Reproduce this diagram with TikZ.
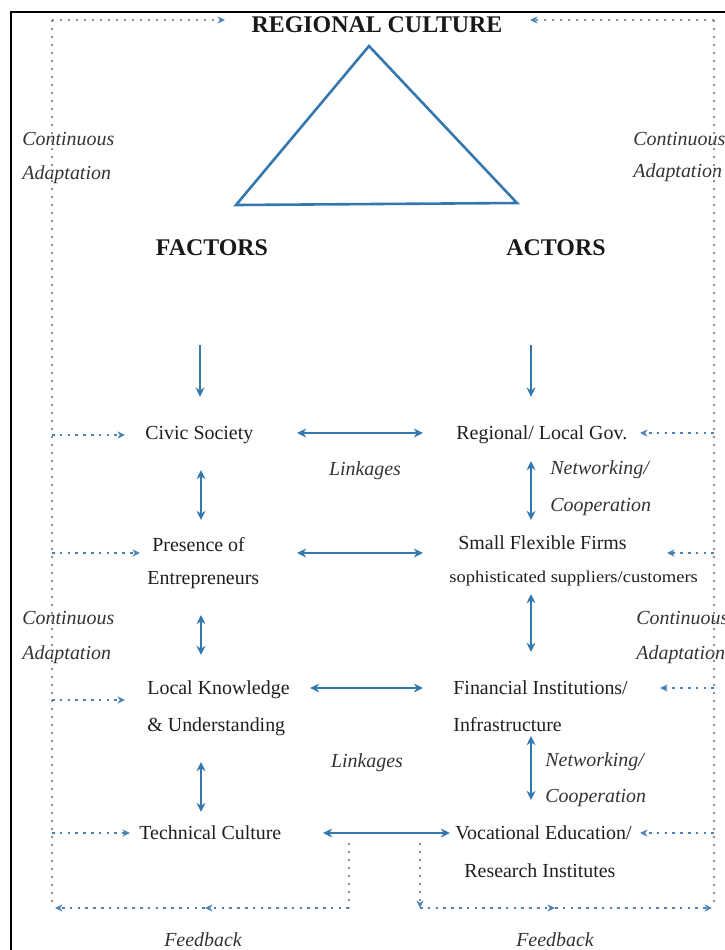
\documentclass[tikz,border=0pt]{standalone}
\usepackage{fontspec}
\setmainfont{Liberation Serif}
\usepackage{graphicx}
\usetikzlibrary{arrows.meta}
\definecolor{lineblue}{RGB}{52,120,175}
\definecolor{dotgrey}{RGB}{135,145,155}
\definecolor{dotblue}{RGB}{75,130,180}
\begin{document}
\begin{tikzpicture}[x=0.5bp,y=-0.5bp,
  txt/.style={inner sep=0pt, text=black!88, font=\fontsize{10}{12}\selectfont},
  lbl/.style={inner sep=0pt, text=black!80, font=\fontsize{10}{12}\selectfont\itshape},
  head/.style={inner sep=0pt, text=black!90, font=\fontsize{12}{14}\selectfont\bfseries},
  link/.style={draw=lineblue, line width=0.85bp,
    {Stealth[length=4.6bp,width=4.4bp]}-{Stealth[length=4.6bp,width=4.4bp]}},
  downarrow/.style={draw=lineblue, line width=1bp, -{Stealth[length=4.8bp,width=4.4bp]}},
  frameline/.style={draw=dotgrey, line width=0.8bp, dash pattern=on 0.8bp off 3.2bp},
  feed/.style={draw=dotblue, line width=0.8bp, dash pattern=on 1.3bp off 2.6bp,
    -{Stealth[length=3.8bp,width=3.6bp]}},
  framearrow/.style={frameline, -{Stealth[length=3.8bp,width=3.6bp,color=dotblue]}},
]
\useasboundingbox (0,0) rectangle (725,950);

% outer border
\draw[line width=1.1bp] (11,950) -- (11,12) -- (725,12);

% title and triangle
\node[head] (culture) at (377,25) {REGIONAL CULTURE};
\coordinate (apex) at (369,46);
\coordinate (baseL) at (236,205);
\coordinate (baseR) at (517,203);
\draw[lineblue, line width=1.3bp] (apex) -- (baseR) -- (baseL) -- cycle;

\node[head] (factors) at (212,248) {FACTORS};
\node[head] (actors) at (556,248) {ACTORS};

% continuous adaptation labels
\node[lbl, anchor=west] (ca1) at (22,139) {Continuous};
\node[lbl, anchor=west] (ad1) at (22,175) {Adaptation};
\node[lbl, anchor=west] (ca2) at (633,139) {Continuous};
\node[lbl, anchor=west] (ad2) at (633,173) {Adaptation};
\node[lbl, anchor=west] (ca3) at (22,618) {Continuous};
\node[lbl, anchor=west] (ad3) at (22,655) {Adaptation};
\node[lbl, anchor=west] (ca4) at (636,618) {Continuous};
\node[lbl, anchor=west] (ad4) at (636,655) {Adaptation};

% factors column
\node[txt, anchor=west] (civic) at (145,435) {Civic Society};
\node[txt, anchor=west] (pres) at (152,545) {Presence of};
\node[txt, anchor=west] (entr) at (147,580) {Entrepreneurs};
\node[txt, anchor=west] (know) at (147,690) {Local Knowledge};
\node[txt, anchor=west] (under) at (147,727) {\& Understanding};
\node[txt, anchor=west] (tech) at (139,833) {Technical Culture};

% actors column
\node[txt, anchor=west] (gov) at (456,435) {Regional/ Local Gov.};
\node[txt, anchor=west] (firms) at (458,543) {Small Flexible Firms};
\node[txt, anchor=west] (supp) at (449,579) {\scalebox{1.12}[1]{\fontsize{8.3}{10}\selectfont sophisticated suppliers/customers}};
\node[txt, anchor=west] (fin) at (453,688) {Financial Institutions/};
\node[txt, anchor=west] (infra) at (453,725) {Infrastructure};
\node[txt, anchor=west] (voc) at (455,833) {Vocational Education/};
\node[txt, anchor=west] (res) at (464,871) {Research Institutes};

% connector labels
\node[lbl] (link1) at (365,471) {Linkages};
\node[lbl] (link2) at (367,763) {Linkages};
\node[lbl, anchor=west] (net1) at (550,470) {Networking/};
\node[lbl, anchor=west] (coop1) at (550,507) {Cooperation};
\node[lbl, anchor=west] (net2) at (545,762) {Networking/};
\node[lbl, anchor=west] (coop2) at (545,798) {Cooperation};
\node[lbl] (fb1) at (203,940) {Feedback};
\node[lbl] (fb2) at (555,940) {Feedback};

% arrows down from factors and actors
\coordinate (dfa) at (200,345); \coordinate (dfb) at (200,397);
\coordinate (daa) at (531,345); \coordinate (dab) at (531,397);
\draw[downarrow] (dfa) -- (dfb);
\draw[downarrow] (daa) -- (dab);

% linkages between the columns
\coordinate (h1a) at (297,433); \coordinate (h1b) at (423,433);
\coordinate (h2a) at (297,553); \coordinate (h2b) at (423,553);
\coordinate (h3a) at (310,688); \coordinate (h3b) at (423,688);
\coordinate (h4a) at (323,833); \coordinate (h4b) at (450,833);
\draw[link] (h1a) -- (h1b);
\draw[link] (h2a) -- (h2b);
\draw[link] (h3a) -- (h3b);
\draw[link] (h4a) -- (h4b);

% links within the factors column
\coordinate (v1a) at (201,470); \coordinate (v1b) at (201,520);
\coordinate (v2a) at (201,615); \coordinate (v2b) at (201,655);
\coordinate (v3a) at (201,762); \coordinate (v3b) at (201,812);
\draw[link] (v1a) -- (v1b);
\draw[link] (v2a) -- (v2b);
\draw[link] (v3a) -- (v3b);

% networking within the actors column
\coordinate (w1a) at (531,461); \coordinate (w1b) at (531,520);
\coordinate (w2a) at (531,594); \coordinate (w2b) at (531,652);
\coordinate (w3a) at (531,736); \coordinate (w3b) at (531,800);
\draw[link] (w1a) -- (w1b);
\draw[link] (w2a) -- (w2b);
\draw[link] (w3a) -- (w3b);

% dotted adaptation frame
\coordinate (fTL) at (52,20);
\coordinate (fBL) at (52,908);
\coordinate (fTR) at (714,20);
\coordinate (fBR) at (714,908);
\draw[frameline] (fTL) -- (fBL);
\draw[frameline] (fTR) -- (fBR);
\draw[framearrow] (fTL) -- (225,20);
\draw[framearrow] (fTR) -- (530,20);

% feedback loops at the bottom
\coordinate (fbL) at (349,843);
\coordinate (fbLc) at (349,908);
\coordinate (fbLm) at (205,908);
\coordinate (fbR) at (420,843);
\coordinate (fbRc) at (420,908);
\coordinate (fbRm) at (555,908);
\draw[frameline] (fbL) -- (fbLc);
\draw[feed] (fbLc) -- (fbLm);
\draw[feed] (fbLm) -- (55,908);
\draw[framearrow] (fbR) -- (fbRc);
\draw[feed] (fbRc) -- (fbRm);
\draw[feed] (fbRm) -- (712,908);

% adaptation feeds into each factor and actor
\draw[feed] (52,435) -- (125,435);
\draw[feed] (52,553) -- (140,553);
\draw[feed] (52,700) -- (125,700);
\draw[feed] (52,833) -- (130,833);
\draw[feed] (714,433) -- (640,433);
\draw[feed] (714,553) -- (667,553);
\draw[feed] (714,688) -- (660,688);
\draw[feed] (714,833) -- (640,833);
\end{tikzpicture}
\end{document}
